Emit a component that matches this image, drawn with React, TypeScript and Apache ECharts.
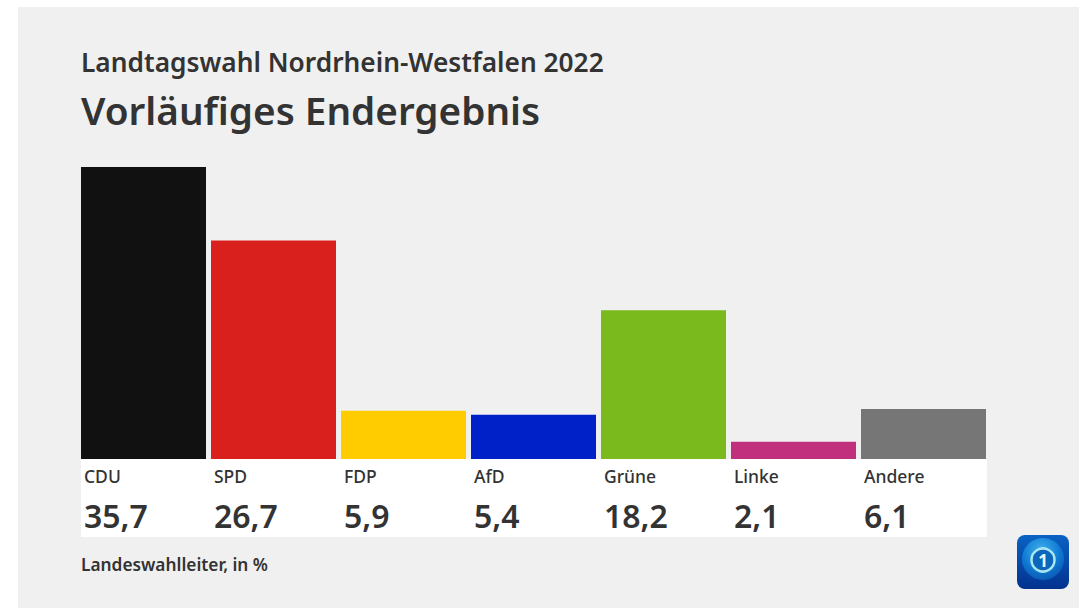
import React, { useEffect, useRef } from "react";
import * as echarts from "echarts";

const parties = ["CDU", "SPD", "FDP", "AfD", "Grüne", "Linke", "Andere"];
const shares = [35.7, 26.7, 5.9, 5.4, 18.2, 2.1, 6.1];
const colors = ["#111111", "#d9201c", "#ffcc00", "#0020c8", "#7aba1c", "#c0307c", "#767676"];
const kicker = "Landtagswahl Nordrhein-Westfalen 2022";
const heading = "Vorläufiges Endergebnis";
const source = "Landeswahlleiter, in %";
const FONT = "'Noto Sans', 'Open Sans', sans-serif";
const INK = "#333333";

export default function App() {
  const ref = useRef<HTMLDivElement>(null);
  useEffect(() => {
    const chart = echarts.init(ref.current!, null, { renderer: "svg" });
    chart.setOption({
      animation: false,
      backgroundColor: "#ffffff",
      textStyle: { fontFamily: FONT },
      title: [
        { text: kicker, left: 76, top: 44, textStyle: { fontFamily: FONT, fontSize: 26.3, fontWeight: 600, color: INK } },
        { text: heading, left: 76, top: 85, textStyle: { fontFamily: FONT, fontSize: 38.7, fontWeight: 600, color: INK } },
        { text: source, left: 76, top: 551, textStyle: { fontFamily: FONT, fontSize: 17.3, fontWeight: 600, color: INK } },
      ],
      grid: { left: 78.5, top: 167, width: 910, height: 292, containLabel: false },
      xAxis: {
        type: "category",
        data: parties,
        axisLine: { show: false },
        axisTick: { show: false },
        axisLabel: {
          interval: 0,
          margin: 5,
          align: "center",
          verticalAlign: "top",
          formatter: (name: string, i: number) =>
            `{p|${name}}\n{v|${String(shares[i]).replace(".", ",")}}`,
          rich: {
            p: { width: 122, padding: [0, 0, 0, 3], align: "left", fontFamily: FONT, fontSize: 17.5, fontWeight: 500, color: INK, lineHeight: 24 },
            v: { width: 122, padding: [0, 0, 0, 3], align: "left", fontFamily: FONT, fontSize: 32, fontWeight: 600, color: INK, lineHeight: 54 },
          },
        },
      },
      yAxis: { type: "value", min: 0, max: 35.7, show: false, splitLine: { show: false } },
      series: [
        {
          type: "bar",
          barWidth: 125,
          data: shares.map((value, i) => ({ value, itemStyle: { color: colors[i] } })),
        },
      ],
      graphic: [
        { type: "rect", z: -10, shape: { x: 18, y: 7, width: 1061, height: 601 }, style: { fill: "#f0f0f1" } },
        { type: "rect", z: -9, shape: { x: 81, y: 459, width: 906, height: 78 }, style: { fill: "#ffffff" } },
        {
          type: "rect", z: 5,
          shape: { x: 1017, y: 535, width: 52, height: 54, r: 8 },
          style: {
            fill: new echarts.graphic.LinearGradient(0, 0, 0, 1, [
              { offset: 0, color: "#0a62c4" },
              { offset: 1, color: "#03328f" },
            ]),
          },
        },
        {
          type: "circle", z: 6, shape: { cx: 1043, cy: 559, r: 21 },
          style: {
            fill: new echarts.graphic.RadialGradient(0.45, 0.3, 0.75, [
              { offset: 0, color: "#3fb0ee" },
              { offset: 0.6, color: "#0f79d2" },
              { offset: 1, color: "#0a55b0" },
            ]),
          },
        },
        { type: "circle", z: 7, shape: { cx: 1043, cy: 560, r: 11.5 }, style: { fill: "#0d66ba", stroke: "#a9e6f4", lineWidth: 2.5 } },
        { type: "text", z: 8, x: 1043, y: 560, style: { text: "1", fill: "#e6f6fb", font: `bold 17px ${FONT}`, align: "center", verticalAlign: "middle" } },
      ],
    });
    return () => chart.dispose();
  }, []);
  return <div ref={ref} style={{ position: "fixed", left: 0, top: 0, width: 1079, height: 608 }} />;
}
